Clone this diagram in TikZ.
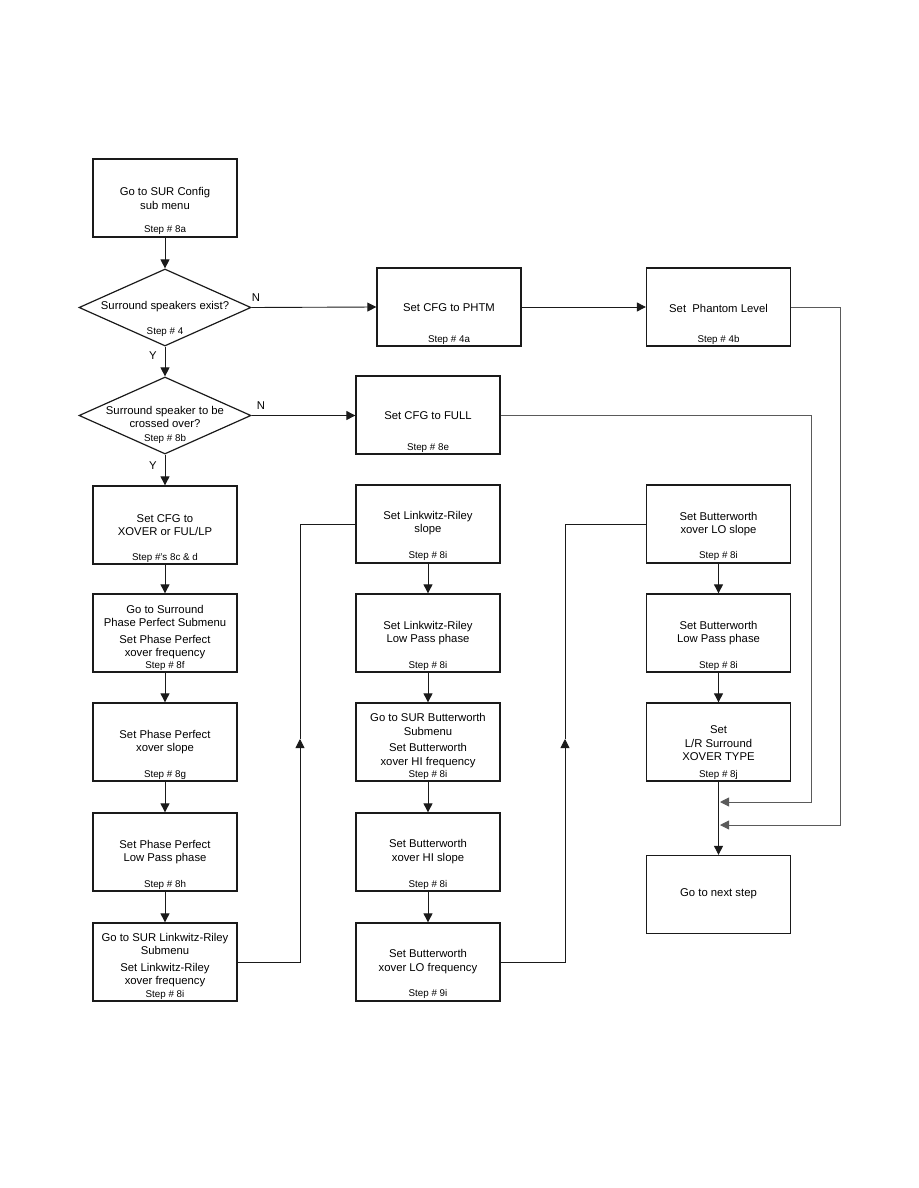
\documentclass[tikz,border=0pt]{standalone}
\usepackage{fontspec}
\setmainfont{Liberation Sans}
\usetikzlibrary{arrows.meta,shapes.geometric}
\definecolor{FCLine}{HTML}{1A1A1A}
\definecolor{FCGrey}{HTML}{5A5A5A}
\tikzset{
  box/.style={draw=FCLine,line width=1.3pt,minimum width=144pt,minimum height=78pt,inner sep=0pt},
  choice/.style={draw=FCLine,line width=1.2pt,diamond,minimum width=172pt,minimum height=77pt,inner sep=0pt},
  txt/.style={align=center,inner sep=0pt,font=\fontsize{11.3}{13.4}\selectfont},
  steptxt/.style={inner sep=0pt,font=\fontsize{9.8}{11}\selectfont},
  flow/.style={draw=FCLine,line width=0.9pt,-{Triangle[width=9pt,length=9pt]}},
  back/.style={flow,draw=FCGrey},
  plain/.style={draw=FCLine,line width=0.9pt},
}
\begin{document}
\begin{tikzpicture}[x=1pt,y=-1pt]
\path[use as bounding box] (0,0) rectangle (918,1188);
% left column
\node[box] (config) at (165,198) {};
\node[txt] at (165,198.5) {Go to SUR Config\\sub menu};
\node[steptxt] at (165,230) {Step \# 8a};
\node[choice] (exist) at (165,307.5) {};
\node[txt] at (165,307) {Surround speakers exist?};
\node[steptxt] at (165,332) {Step \# 4};
\node[choice] (cross) at (165,415.5) {};
\node[txt] at (165,417) {Surround speaker to be\\crossed over?};
\node[steptxt] at (165,439) {Step \# 8b};
\node[box] (xover) at (165,525) {};
\node[txt] at (165,525) {Set CFG to\\XOVER or FUL/LP};
\node[steptxt] at (165,558) {Step \#'s 8c \& d};
\node[box] (ppfreq) at (165,633) {};
\node[txt] at (165,632) {Go to Surround\\Phase Perfect Submenu\\[3pt]Set Phase Perfect\\xover frequency};
\node[steptxt] at (165,666) {Step \# 8f};
\node[box] (ppslope) at (165,742) {};
\node[txt] at (165,742) {Set Phase Perfect\\xover slope};
\node[steptxt] at (165,775) {Step \# 8g};
\node[box] (ppphase) at (165,852) {};
\node[txt] at (165,852) {Set Phase Perfect\\Low Pass phase};
\node[steptxt] at (165,885) {Step \# 8h};
\node[box] (lrfreq) at (165,962) {};
\node[txt] at (165,960) {Go to SUR Linkwitz-Riley\\Submenu\\[3pt]Set Linkwitz-Riley\\xover frequency};
\node[steptxt] at (165,995) {Step \# 8i};
% middle column
\node[box] (phtm) at (449,307) {};
\node[txt] at (449,308) {Set CFG to PHTM};
\node[steptxt] at (449,340) {Step \# 4a};
\node[box] (full) at (428,415) {};
\node[txt] at (428,416) {Set CFG to FULL};
\node[steptxt] at (428,448) {Step \# 8e};
\node[box] (lrslope) at (428,524) {};
\node[txt] at (428,523) {Set Linkwitz-Riley\\slope};
\node[steptxt] at (428,556) {Step \# 8i};
\node[box] (lrphase) at (428,633) {};
\node[txt] at (428,633) {Set Linkwitz-Riley\\Low Pass phase};
\node[steptxt] at (428,666) {Step \# 8i};
\node[box] (bwhifreq) at (428,742) {};
\node[txt] at (428,740.5) {Go to SUR Butterworth\\Submenu\\[3pt]Set Butterworth\\xover HI frequency};
\node[steptxt] at (428,775) {Step \# 8i};
\node[box] (bwhislope) at (428,852) {};
\node[txt] at (428,851.5) {Set Butterworth\\xover HI slope};
\node[steptxt] at (428,885) {Step \# 8i};
\node[box] (bwlofreq) at (428,962) {};
\node[txt] at (428,961.5) {Set Butterworth\\xover LO frequency};
\node[steptxt] at (428,994) {Step \# 9i};
% right column
\node[box] (phantom) at (718.5,307) {};
\node[txt] at (718.5,308) {Set\ \ Phantom Level};
\node[steptxt] at (718.5,340) {Step \# 4b};
\node[box] (bwloslope) at (718.5,524) {};
\node[txt] at (718.5,524) {Set Butterworth\\xover LO slope};
\node[steptxt] at (718.5,556) {Step \# 8i};
\node[box] (bwphase) at (718.5,633) {};
\node[txt] at (718.5,633) {Set Butterworth\\Low Pass phase};
\node[steptxt] at (718.5,666) {Step \# 8i};
\node[box] (xtype) at (718.5,742) {};
\node[txt] at (718.5,743.5) {Set\\L/R Surround\\XOVER TYPE};
\node[steptxt] at (718.5,775) {Step \# 8j};
\node[box] (next) at (718.5,894.5) {};
\node[txt] at (718.5,894) {Go to next step};
% Y / N labels
\node[txt] at (153,356) {Y};
\node[txt] at (153,466) {Y};
\node[txt] at (256,298) {N};
\node[txt] at (261,406) {N};
% turning points
\coordinate (join1) at (720,802);
\coordinate (join2) at (720,825);
\coordinate (fullturn) at (811,802);
\coordinate (phantomturn) at (840,825);
\coordinate (lrup) at (300,739);
\coordinate (bwup) at (565,739);
% connectors
\draw[flow] (config.south) -- (exist.north);
\draw[flow] (exist.south) -- (cross.north);
\draw[flow] (cross.south) -- (xover.north);
\draw[flow] (xover.south) -- (ppfreq.north);
\draw[flow] (ppfreq.south) -- (ppslope.north);
\draw[flow] (ppslope.south) -- (ppphase.north);
\draw[flow] (ppphase.south) -- (lrfreq.north);
\draw[flow] (exist.east) -- (phtm.west);
\draw[flow] (phtm.east) -- (phantom.west);
\draw[flow] (cross.east) -- (full.west |- cross.east);
\draw[flow] (lrfreq.east) -| (lrup);
\draw[plain] (lrup) |- (lrslope.west);
\draw[flow] (lrslope.south) -- (lrphase.north);
\draw[flow] (lrphase.south) -- (bwhifreq.north);
\draw[flow] (bwhifreq.south) -- (bwhislope.north);
\draw[flow] (bwhislope.south) -- (bwlofreq.north);
\draw[flow] (bwlofreq.east) -| (bwup);
\draw[plain] (bwup) |- (bwloslope.west);
\draw[flow] (bwloslope.south) -- (bwphase.north);
\draw[flow] (bwphase.south) -- (xtype.north);
\draw[flow] (xtype.south) -- (next.north);
\draw[back] (full.east) -| (fullturn) -- (join1);
\draw[back] (phantom.east) -| (phantomturn) -- (join2);
\end{tikzpicture}
\end{document}
